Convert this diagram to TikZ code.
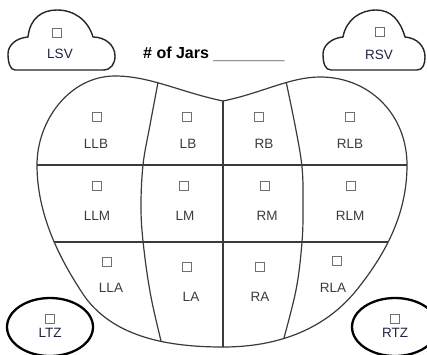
\documentclass[tikz,border=0pt]{standalone}
\usepackage{fontspec}
\setmainfont{Liberation Sans}
\usetikzlibrary{shapes.geometric}
\definecolor{linegray}{HTML}{3A3A3A}
\definecolor{labelgray}{HTML}{3C3C3C}
\definecolor{boxgray}{HTML}{707070}
\definecolor{navy}{HTML}{1E2440}
\tikzset{
  lbl/.style={font=\fontsize{13.5}{16}\selectfont, text=labelgray, inner sep=0pt},
  zlbl/.style={font=\fontsize{13.5}{16}\selectfont, text=navy, inner sep=0pt},
  chkbox/.style={draw=boxgray, line width=0.8pt, minimum size=9pt, inner sep=0pt},
  organ/.style={draw=linegray, line width=1.2pt, line join=round},
  cloudline/.style={draw=black!85, line width=1.4pt, line join=round},
  zone/.style={draw=black, line width=2.3pt, ellipse, minimum width=86pt, minimum height=58pt, inner sep=0pt}
}
\begin{document}
\begin{tikzpicture}[x=1pt,y=-1pt]
\useasboundingbox[fill=white] (0,0) rectangle (427,354);

% clouds
\draw[cloudline] (15,70) -- (103,70) .. controls (111,70) and (115,64) .. (115,56)
  .. controls (115,45) and (105,37) .. (93,37)
  .. controls (88,20) and (74,10) .. (57,10)
  .. controls (42,10) and (30,18) .. (28,37)
  .. controls (16,38) and (8,45) .. (8,54)
  .. controls (8,62) and (10,70) .. (15,70) -- cycle;
\draw[cloudline] (331,70) -- (417,70) .. controls (423,70) and (425,64) .. (425,57)
  .. controls (425,46) and (417,38) .. (405,37)
  .. controls (400,20) and (391,10) .. (376,10)
  .. controls (360,10) and (346,20) .. (343,37)
  .. controls (332,38) and (323,45) .. (323,54)
  .. controls (323,63) and (325,70) .. (331,70) -- cycle;

% dividers clipped to outline
\begin{scope}
\clip (223,101) .. controls (180,92) and (150,76) .. (115,76)
  .. controls (70,76) and (37,120) .. (37,165)
  .. controls (37,215) and (60,260) .. (85,297)
  .. controls (115,338) and (170,347) .. (223,347)
  .. controls (280,347) and (325,328) .. (355,292)
  .. controls (385,255) and (407,215) .. (407,165)
  .. controls (407,115) and (370,77) .. (320,77)
  .. controls (290,77) and (262,93) .. (223,101) -- cycle;
\draw[organ] (20,165) -- (420,165);
\draw[organ] (20,242) -- (420,242);
\draw[organ] (223,90) -- (223,360);
\draw[organ] plot[smooth, tension=0.6] coordinates {(160,72) (150,125) (143,165) (141,210) (144,250) (151,297) (162,345)};
\draw[organ] plot[smooth, tension=0.6] coordinates {(284,72) (295,125) (302,167) (303,205) (302,242) (296,290) (282,345)};
\end{scope}

% outline
\draw[organ] (223,101) .. controls (180,92) and (150,76) .. (115,76)
  .. controls (70,76) and (37,120) .. (37,165)
  .. controls (37,215) and (60,260) .. (85,297)
  .. controls (115,338) and (170,347) .. (223,347)
  .. controls (280,347) and (325,328) .. (355,292)
  .. controls (385,255) and (407,215) .. (407,165)
  .. controls (407,115) and (370,77) .. (320,77)
  .. controls (290,77) and (262,93) .. (223,101) -- cycle;

% zones
\node[zone] (ltz) at (50,327) {};
\node[zone] (rtz) at (395,327) {};

% title
\node[anchor=base west, inner sep=0pt, font=\fontsize{16}{18}\selectfont] (jars) at (143,58)
  {\textbf{\# of Jars} \textcolor{gray}{\_\_\_\_\_\_\_\_}};

% checkboxes
\node[chkbox] (bLSV) at (57,33) {};
\node[chkbox] (bRSV) at (380,32) {};
\node[chkbox] (bLLB) at (97,117) {};
\node[chkbox] (bLB)  at (187,117) {};
\node[chkbox] (bRB)  at (259,117) {};
\node[chkbox] (bRLB) at (350,117) {};
\node[chkbox] (bLLM) at (97,186) {};
\node[chkbox] (bLM)  at (184,186) {};
\node[chkbox] (bRM)  at (265,186) {};
\node[chkbox] (bRLM) at (351,186) {};
\node[chkbox] (bLLA) at (107,262) {};
\node[chkbox] (bLA)  at (187,267) {};
\node[chkbox] (bRA)  at (260,267) {};
\node[chkbox] (bRLA) at (337,261) {};
\node[chkbox] (bLTZ) at (50,319) {};
\node[chkbox] (bRTZ) at (395,319) {};

% labels
\node[zlbl] (tLSV) at (60,54) {LSV};
\node[zlbl] (tRSV) at (379,55) {RSV};
\node[lbl] (tLLB) at (96,144) {LLB};
\node[lbl] (tLB)  at (188,144) {LB};
\node[lbl] (tRB)  at (264,144) {RB};
\node[lbl] (tRLB) at (350,144) {RLB};
\node[lbl] (tLLM) at (97,216) {LLM};
\node[lbl] (tLM)  at (185,216) {LM};
\node[lbl] (tRM)  at (267,216) {RM};
\node[lbl] (tRLM) at (350,216) {RLM};
\node[lbl] (tLLA) at (111,288) {LLA};
\node[lbl] (tLA)  at (191,297) {LA};
\node[lbl] (tRA)  at (260,297) {RA};
\node[lbl] (tRLA) at (333,288) {RLA};
\node[zlbl] (tLTZ) at (50,333) {LTZ};
\node[zlbl] (tRTZ) at (395,333) {RTZ};
\end{tikzpicture}
\end{document}
